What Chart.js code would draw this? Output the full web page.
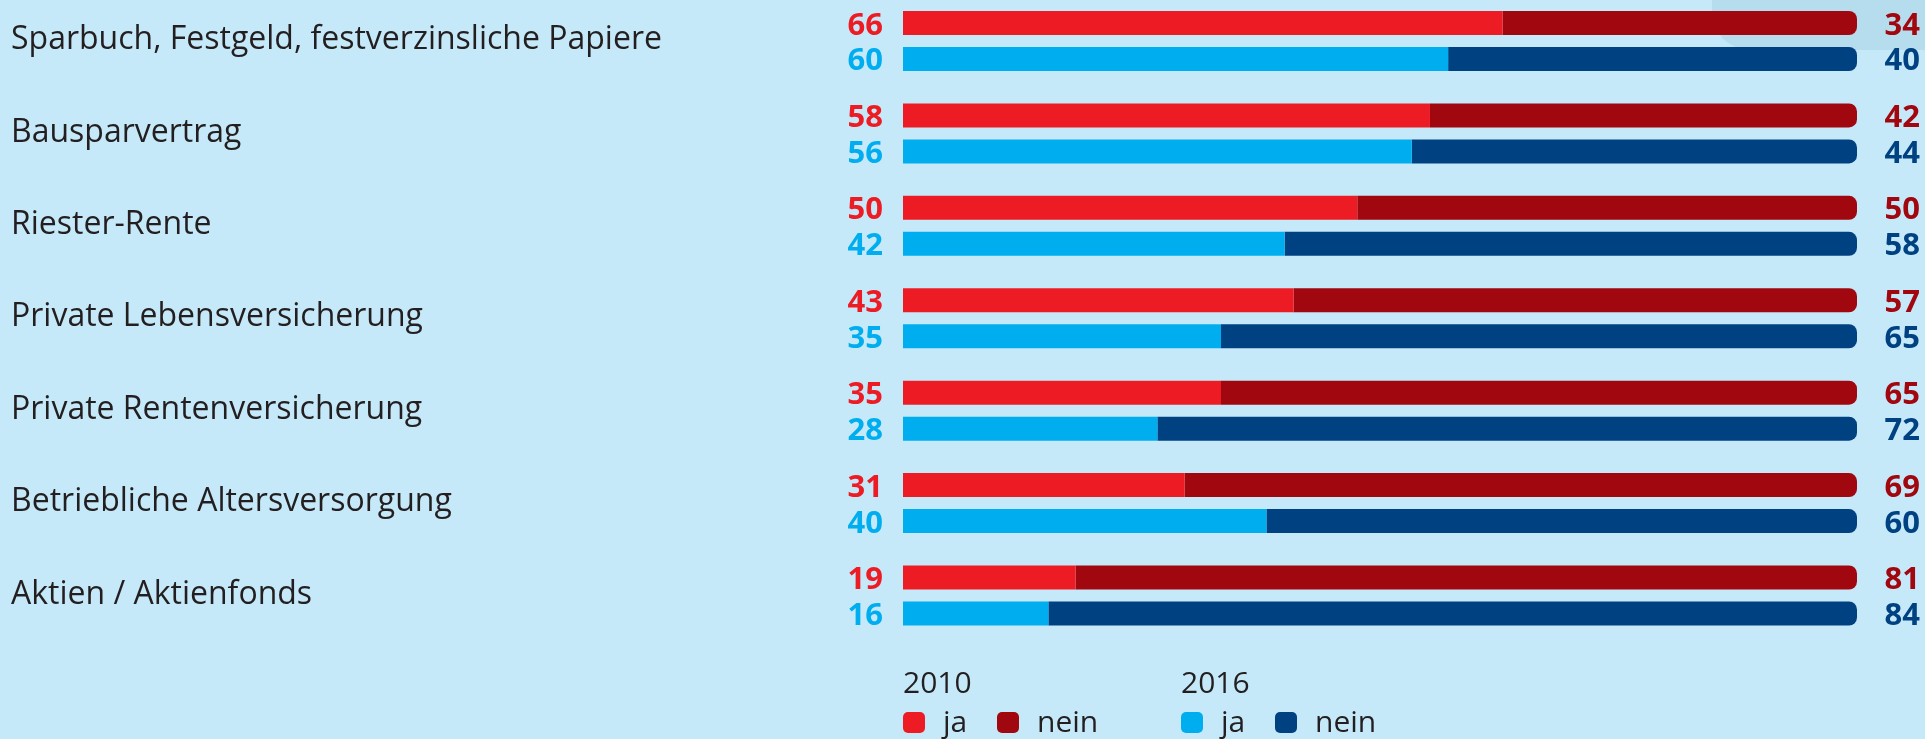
<!DOCTYPE html>
<html>
<head>
<meta charset="utf-8">
<script src="https://cdn.jsdelivr.net/npm/chart.js@4"></script>
<style>
  html, body { margin: 0; padding: 0; background: #c6e9f9; }
  #wrap { position: relative; width: 1925px; height: 739px; overflow: hidden; background: #c6e9f9; }
  #blob { position: absolute; left: 1712px; top: -30px; width: 260px; height: 80px; background: #b6dded; border-radius: 0 0 0 38px; }
  #c { position: absolute; left: 0; top: 0; }
  .lg { position: absolute; font-family: 'Open Sans', sans-serif; font-size: 30px; line-height: 30px; color: #231f20; white-space: nowrap; }
  .sw { position: absolute; width: 22px; height: 21px; border-radius: 5px; }
</style>
</head>
<body>
<div id="wrap">
  <div id="blob"></div>
  <canvas id="c" width="1925" height="739"></canvas>
</div>
<script>
const categories = [
  'Sparbuch, Festgeld, festverzinsliche Papiere',
  'Bausparvertrag',
  'Riester-Rente',
  'Private Lebensversicherung',
  'Private Rentenversicherung',
  'Betriebliche Altersversorgung',
  'Aktien / Aktienfonds'
];
const ja2010   = [66, 58, 50, 43, 35, 31, 19];
const nein2010 = [34, 42, 50, 57, 65, 69, 81];
const ja2016   = [60, 56, 42, 35, 28, 40, 16];
const nein2016 = [40, 44, 58, 65, 72, 60, 84];
const years = ['2010', '2016'];
const legendLabels = ['ja', 'nein'];

// the source draws the "ja" share on a 0–105 track; "nein" fills the rest of the track
const TRACK_MAX = 105;

const RED = '#ed1c24', DARKRED = '#a1070f', BLUE = '#00aeef', DARKBLUE = '#004281';
const TEXT = '#231f20';
const FONT = "'Open Sans', sans-serif";

const roundEnd = { topLeft: 0, bottomLeft: 0, topRight: 8, bottomRight: 8 };

const rest = (ja) => ja.map(v => [v, TRACK_MAX]);

const valueLabels = {
  id: 'valueLabels',
  afterDatasetsDraw(chart) {
    const ctx = chart.ctx, area = chart.chartArea;
    ctx.save();
    ctx.font = 'bold 31px ' + FONT;
    ctx.textBaseline = 'alphabetic';
    ctx.textAlign = 'right';
    [[0, 1], [2, 3]].forEach(([a, b]) => {
      const mA = chart.getDatasetMeta(a);
      const dA = chart.data.datasets[a], dB = chart.data.datasets[b];
      mA.data.forEach((bar, i) => {
        const p = bar.getProps(['y', 'height'], true);
        const yb = p.y + p.height / 2 - 0.5;
        ctx.fillStyle = dA.backgroundColor;
        ctx.fillText(String(dA.data[i]), area.left - 20, yb);
        ctx.fillStyle = dB.backgroundColor;
        ctx.fillText(String(dB.values[i]), area.right + 63, yb);
      });
    });
    ctx.restore();
  }
};

new Chart(document.getElementById('c'), {
  type: 'bar',
  data: {
    labels: categories,
    datasets: [
      { label: 'ja ' + years[0], data: ja2010, stack: 's2010', backgroundColor: RED, borderRadius: 0, clip: false },
      { label: 'nein ' + years[0], data: rest(ja2010), values: nein2010, stack: 's2010', backgroundColor: DARKRED, borderRadius: roundEnd, borderSkipped: false, clip: false },
      { label: 'ja ' + years[1], data: ja2016, stack: 's2016', backgroundColor: BLUE, borderRadius: 0, clip: false },
      { label: 'nein ' + years[1], data: rest(ja2016), values: nein2016, stack: 's2016', backgroundColor: DARKBLUE, borderRadius: roundEnd, borderSkipped: false, clip: false }
    ]
  },
  options: {
    indexAxis: 'y',
    responsive: false,
    animation: false,
    devicePixelRatio: 1,
    categoryPercentage: 72 / 92.42,
    barPercentage: 24 / 36,
    layout: { padding: { left: 11, right: 68, top: 41, bottom: 143.5 } },
    plugins: { legend: { display: false }, tooltip: { enabled: false } },
    scales: {
      x: { display: false, stacked: false, min: 0, max: TRACK_MAX },
      y: {
        stacked: true,
        offset: false,
        grid: { display: false, drawTicks: false },
        border: { display: false },
        ticks: {
          crossAlign: 'far',
          padding: 0,
          labelOffset: -1,
          color: TEXT,
          font: { family: FONT, size: 32 }
        },
        afterFit(scale) { scale.width = 892; }
      }
    }
  },
  plugins: [valueLabels]
});

// legend (HTML text)
(function () {
  const wrap = document.getElementById('wrap');
  const groups = [
    { year: years[0], x: 903, colors: [RED, DARKRED] },
    { year: years[1], x: 1181, colors: [BLUE, DARKBLUE] }
  ];
  const asc = 26.6; // baseline offset inside a 30px line box
  groups.forEach(g => {
    const yr = document.createElement('div');
    yr.className = 'lg'; yr.textContent = g.year;
    yr.style.left = g.x + 'px'; yr.style.top = (694 - asc) + 'px';
    wrap.appendChild(yr);
    const offs = [0, 94];
    legendLabels.forEach((lab, k) => {
      const sw = document.createElement('div');
      sw.className = 'sw'; sw.style.background = g.colors[k];
      sw.style.left = (g.x + offs[k]) + 'px'; sw.style.top = '712px';
      wrap.appendChild(sw);
      const t = document.createElement('div');
      t.className = 'lg'; t.textContent = lab;
      t.style.left = (g.x + offs[k] + 40) + 'px'; t.style.top = (733 - asc) + 'px';
      wrap.appendChild(t);
    });
  });
})();
</script>
</body>
</html>
